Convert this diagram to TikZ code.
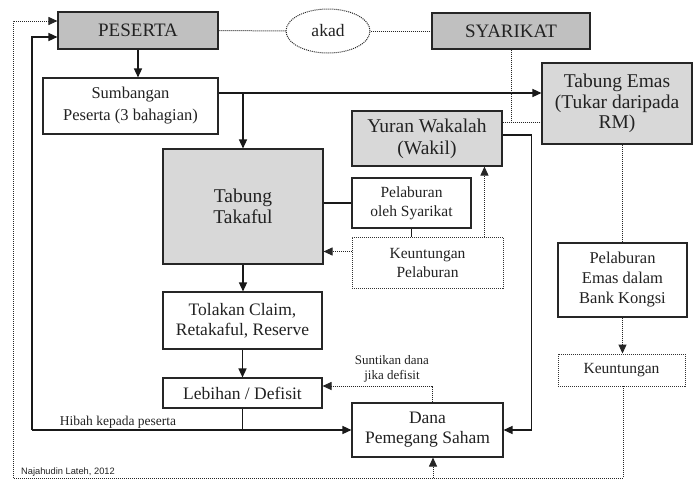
\documentclass[tikz,border=0pt]{standalone}
\usepackage{fontspec}
\setmainfont{Liberation Serif}
\newfontfamily\smallsans{Liberation Sans}
\usetikzlibrary{arrows.meta,shapes.geometric,calc}
\definecolor{darkbox}{HTML}{C0C0C0}
\definecolor{lightbox}{HTML}{D8D8D8}
\definecolor{txt}{HTML}{222222}
\tikzset{
  boxn/.style={draw=black!85,line width=1.1pt,rectangle,align=center,inner sep=2pt,text=txt,font=\fontsize{17.5}{20}\selectfont},
  dbox/.style={boxn,fill=darkbox},
  lbox/.style={boxn,fill=lightbox},
  wbox/.style={boxn,fill=white},
  dotbox/.style={draw=black!80,line width=0.9pt,dash pattern=on 1pt off 1pt,rectangle,align=center,fill=white,text=txt,font=\fontsize{15.5}{19}\selectfont},
  conn/.style={draw=black!90,line width=1.4pt},
  arr/.style={conn,-{Triangle[length=9pt,width=8pt]}},
  dotl/.style={draw=black!85,line width=1pt,dash pattern=on 1pt off 1pt},
  darr/.style={dotl,-{Triangle[length=9pt,width=8pt]}},
  smalltxt/.style={inner sep=0pt,text=txt,font=\fontsize{13}{15}\selectfont},
}
\begin{document}
\begin{tikzpicture}[x=1pt,y=-1pt]
\useasboundingbox (0,0) rectangle (693,479);
\fill[white] (0,0) rectangle (693,479);
% nodes
\node[dbox,minimum width=160pt,minimum height=37pt,font=\fontsize{19}{21}\selectfont] (peserta) at (138,30.5) {PESERTA};
\node[draw=black!85,line width=1pt,dash pattern=on 1pt off 1pt,ellipse,minimum width=84pt,minimum height=44pt,inner sep=0pt,text=txt,font=\fontsize{17.5}{21}\selectfont] (akad) at (328,31) {akad};
\node[dbox,minimum width=158pt,minimum height=36pt,font=\fontsize{19}{21}\selectfont] (syarikat) at (511,31) {SYARIKAT};
\node[wbox,minimum width=175pt,minimum height=56pt,font=\fontsize{16.5}{22}\selectfont] (sumb) at (130.5,106) {Sumbangan\\Peserta (3 bahagian)};
\node[lbox,minimum width=150pt,minimum height=81pt,font=\fontsize{19.5}{20.5}\selectfont] (emas) at (617,103.5) {Tabung Emas\\(Tukar daripada\\RM)};
\node[lbox,minimum width=150pt,minimum height=55pt,font=\fontsize{19.5}{22}\selectfont] (yuran) at (427,138.5) {Yuran Wakalah\\(Wakil)};
\node[lbox,minimum width=160pt,minimum height=115pt,font=\fontsize{19.5}{21}\selectfont] (takaful) at (243,206.5) {Tabung\\Takaful};
\node[wbox,minimum width=119pt,minimum height=50pt,font=\fontsize{15.5}{19}\selectfont] (pelab) at (411.5,203) {Pelaburan\\oleh Syarikat};
\node[dotbox,minimum width=151pt,minimum height=51pt] (kpelab) at (427.5,262.5) {Keuntungan\\Pelaburan};
\node[wbox,minimum width=159pt,minimum height=57pt] (tolakan) at (242.5,320.5) {Tolakan Claim,\\Retakaful, Reserve};
\node[wbox,minimum width=159pt,minimum height=30pt] (lebihan) at (242.5,393) {Lebihan / Defisit};
\node[wbox,minimum width=151pt,minimum height=54pt] (dana) at (427.5,430) {Dana\\Pemegang Saham};
\node[wbox,minimum width=129pt,minimum height=74pt,font=\fontsize{16.5}{20}\selectfont] (pemas) at (622.5,280) {Pelaburan\\Emas dalam\\Bank Kongsi};
\node[dotbox,minimum width=127pt,minimum height=32pt] (keunt) at (621.5,370) {Keuntungan};
% labels
\node[smalltxt,font=\fontsize{13.5}{15}\selectfont] (hibah) at (118,422) {Hibah kepada peserta};
\node[smalltxt,align=center] (sunt) at (392,369) {Suntikan dana\\jika defisit};
\node[font=\smallsans\fontsize{9.3}{11}\selectfont,anchor=west,inner sep=0pt,text=txt] (author) at (21,472) {Najahudin Lateh, 2012};
% coordinates
\coordinate (hibL) at (32,430);
\coordinate (botL) at (13,478);
\coordinate (botR) at (623,478);
\coordinate (botD) at (433,478);
% connectors
\draw[dotl] (peserta.east) -- (akad.west);
\draw[dotl] (akad.east) -- (syarikat.west);
\draw[arr] (peserta.south) -- (peserta.south |- sumb.north);
\draw[arr] ([yshift=13pt]sumb.east) -- ([yshift=13pt]sumb.east -| emas.west);
\draw[arr] ([yshift=13pt]sumb.east -| takaful.north) -- (takaful.north);
\draw[dotl] (syarikat.south) -- (syarikat.south |- 0,122);
\draw[dotl] ([yshift=16.5pt]yuran.east) -- ([yshift=16.5pt]yuran.east -| emas.west);
\draw[arr] ([yshift=3.5pt]yuran.east) -- ++(29,0) |- (dana.east);
\draw[conn] (pelab.west -| takaful.east) -- (pelab.west);
\draw[conn] (pelab.south) -- (pelab.south |- kpelab.north);
\draw[darr] ([yshift=11pt]kpelab.west) -- ([yshift=11pt]kpelab.west -| takaful.east);
\draw[darr] ([xshift=-19pt]kpelab.north east) -- ([xshift=-19pt]kpelab.north east |- yuran.south);
\draw[arr] (takaful.south) -- (takaful.south |- tolakan.north);
\draw[arr] (tolakan.south) -- (lebihan.north);
\draw[conn] (lebihan.south) -- (lebihan.south |- dana.west);
\draw[arr] (hibL) -- (dana.west);
\draw[arr] (hibL) |- ([yshift=-6.5pt]peserta.west);
\draw[darr] ([xshift=4.5pt]dana.north) |- ([yshift=7pt]lebihan.east);
\draw[dotl] (pemas.north |- emas.south) -- (pemas.north);
\draw[darr] (pemas.south) -- (pemas.south |- keunt.north);
\draw[dotl] (keunt.south -| botR) -- (botR) -- (botL);
\draw[-{Triangle[length=9pt,width=8pt]},dotl] (botD) -- (botD |- dana.south);
\draw[darr] (botL) |- ([yshift=9.5pt]peserta.west);
\end{tikzpicture}
\end{document}
